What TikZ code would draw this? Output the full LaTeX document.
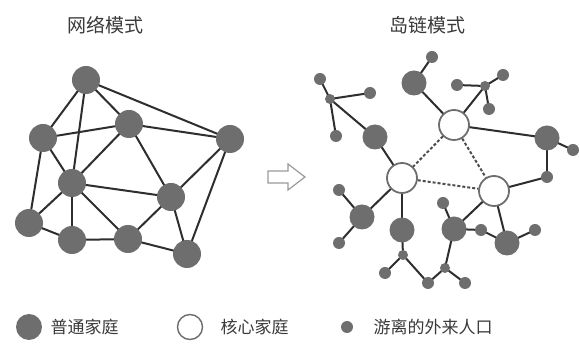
\documentclass[tikz,border=0pt]{standalone}
\usepackage{fontspec}
\newfontfamily\cjk{Noto Sans CJK SC}
\definecolor{ngray}{HTML}{6E6E6E}
\definecolor{lgray}{HTML}{2E2E2E}
\definecolor{tgray}{HTML}{3A3A3A}
\pgfdeclarelayer{edges}
\pgfsetlayers{edges,main}
\begin{document}
\begin{tikzpicture}[x=1pt,y=-1pt,
  big/.style={circle,fill=ngray,minimum size=28pt,inner sep=0pt},
  bigr/.style={circle,fill=ngray,minimum size=25pt,inner sep=0pt},
  core/.style={circle,draw=ngray,line width=1.8pt,fill=white,minimum size=30pt,inner sep=0pt},
  small/.style={circle,fill=ngray,minimum size=12pt,inner sep=0pt},
  hub/.style={circle,fill=ngray,minimum size=10pt,inner sep=0pt},
  edge/.style={draw=lgray,line width=2pt},
  dedge/.style={draw=lgray!85,line width=2pt,dash pattern=on 3pt off 2pt},
  title/.style={font=\cjk\fontsize{19}{19}\selectfont,text=tgray},
  legtext/.style={font=\cjk\fontsize{17}{17}\selectfont,text=tgray,anchor=west}]
\useasboundingbox (0,0) rectangle (579,344);
\begin{pgfonlayer}{edges}
\fill[white] (0,0) rectangle (579,344);
\end{pgfonlayer}
% titles
\node[title] (t1) at (105,25) {网络模式};
\node[title] (t2) at (427,25) {岛链模式};
% left network nodes
\node[big] (A) at (86,80) {};
\node[big] (B) at (43,138) {};
\node[big] (C) at (129,124) {};
\node[big] (D) at (230,139) {};
\node[big] (E) at (72,183) {};
\node[big] (F) at (171,197) {};
\node[big] (G) at (29,223) {};
\node[big] (H) at (72,240) {};
\node[big] (I) at (128,239) {};
\node[big] (J) at (187,254) {};
\begin{pgfonlayer}{edges}
\foreach \a/\b in {A/B,A/C,A/D,A/E,B/C,B/E,B/G,C/D,C/E,C/F,D/F,D/J,E/F,E/G,E/H,E/I,F/I,F/J,G/H,H/I,I/J}
  \draw[edge] (\a.center) -- (\b.center);
\end{pgfonlayer}
% arrow
\draw[ngray!70,line width=1.2pt,fill=white,line join=miter]
  (268,171) -- (288,171) -- (288,164) -- (305,177) -- (288,190) -- (288,183) -- (268,183) -- cycle;
% right: island chain
\node[core] (K1) at (454,125) {};
\node[core] (K2) at (402,178) {};
\node[core] (K3) at (494,191) {};
\node[bigr] (P1) at (414,83) {};
\node[bigr] (P2) at (375,137) {};
\node[bigr] (P3) at (547,138) {};
\node[bigr] (P4) at (362,217) {};
\node[bigr] (P5) at (402,230) {};
\node[bigr] (P6) at (454,229) {};
\node[bigr] (P7) at (507,243) {};
\node[small] (s1) at (432,57) {};
\node[small] (s2) at (320,79) {};
\node[hub] (s3) at (330,99) {};
\node[small] (s4) at (370,93) {};
\node[small] (s5) at (336,136) {};
\node[hub] (s6) at (485,86) {};
\node[small] (s7) at (457,85) {};
\node[small] (s8) at (503,75) {};
\node[small] (s9) at (489,109) {};
\node[small] (s10) at (573,150) {};
\node[small] (s11) at (547,177) {};
\node[small] (s12) at (339,190) {};
\node[small] (s13) at (339,243) {};
\node[small] (s14) at (443,203) {};
\node[small] (s15) at (481,230) {};
\node[small] (s16) at (535,230) {};
\node[hub] (s17) at (403,255) {};
\node[small] (s18) at (385,273) {};
\node[small] (s19) at (428,283) {};
\node[hub] (s20) at (445,268) {};
\node[small] (s21) at (465,283) {};
\begin{pgfonlayer}{edges}
\foreach \a/\b in {K1/P1,P1/s1,K1/s6,s6/s7,s6/s8,s6/s9,K1/P3,P3/s10,P3/s11,s11/K3,K2/P2,P2/s3,s3/s2,s3/s4,s3/s5,K2/P4,P4/s12,P4/s13,K2/P5,P5/s17,s17/s18,s17/s19,s19/s20,s20/s21,s20/P6,K3/P6,P6/s14,P6/s15,s15/P7,K3/P7,P7/s16}
  \draw[edge] (\a.center) -- (\b.center);
\end{pgfonlayer}
\draw[dedge] (K1) -- (K2);
\draw[dedge] (K1) -- (K3);
\draw[dedge] (K2) -- (K3);
% legend
\node[big,minimum size=26pt] (L1) at (29,327) {};
\node[legtext] (L1t) at (47,327) {普通家庭};
\node[core,minimum size=25pt,line width=1.4pt] (L2) at (190,327) {};
\node[legtext] (L2t) at (217,327) {核心家庭};
\node[small] (L3) at (347,327) {};
\node[legtext] (L3t) at (370,327) {游离的外来人口};
\end{tikzpicture}
\end{document}
